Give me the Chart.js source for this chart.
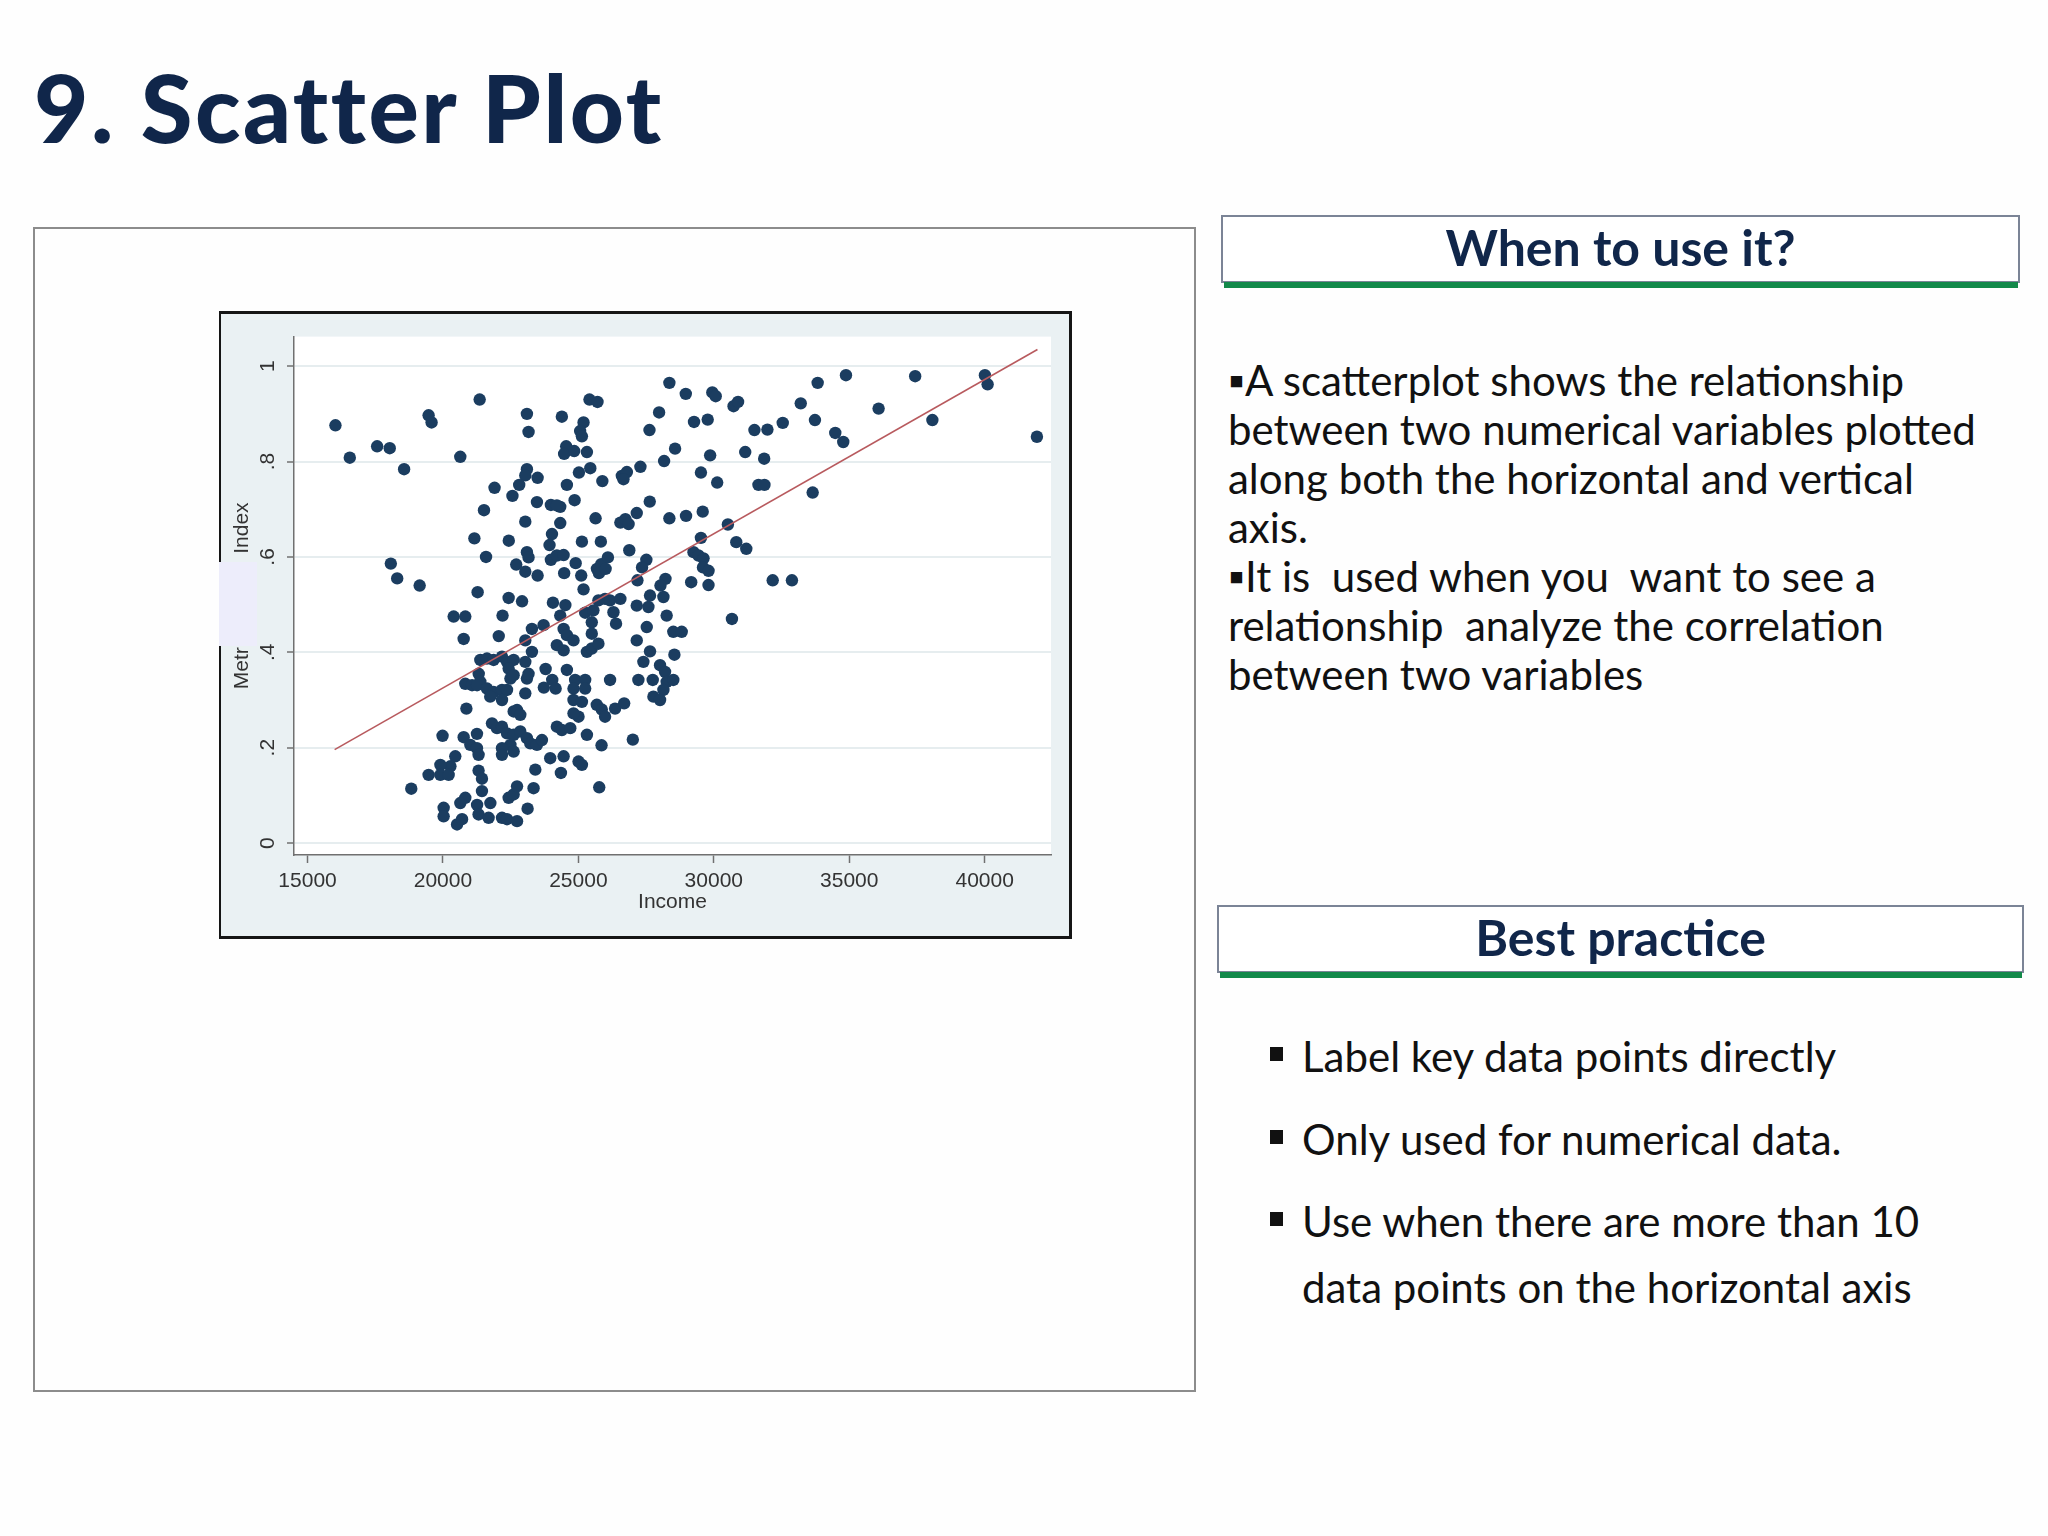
<!DOCTYPE html>
<html>
<head>
<meta charset="utf-8">
<script src="https://cdn.jsdelivr.net/npm/chart.js@4.4.0/dist/chart.umd.min.js"></script>
<style>
  body { margin: 0; width: 2048px; height: 1536px; background: #fefefe; position: relative; overflow: hidden; font-family: Lato, "Open Sans", sans-serif; }
  #title { position: absolute; left: 34px; top: 60px; font-size: 94px; line-height: 94px; font-weight: 900; letter-spacing: 2.5px; color: #10264a; white-space: pre; }
  #panel { position: absolute; left: 33px; top: 227px; width: 1163px; height: 1165px; border: 2px solid #8c8c8c; box-sizing: border-box; }
  #chartBox { position: absolute; left: 219px; top: 311px; width: 853px; height: 628px; box-sizing: border-box; border: 3px solid #151515; border-left-width: 2px; background: #eaf1f3; }
  #chartBox canvas { display: block; }
  #mask { position: absolute; left: 219px; top: 562px; width: 38px; height: 84px; background: #ededfb; }
  .head { position: absolute; box-sizing: border-box; border: 2px solid #7b8496; background: #fff; text-align: center; font-weight: 700; color: #10264a; font-size: 50px; }
  .bar { position: absolute; height: 6px; background: #13894a; }
  .line { position: absolute; left: 1228px; font-size: 42px; line-height: 49px; color: #111; white-space: pre; }
  .item { position: absolute; left: 1302px; font-size: 42px; line-height: 60px; color: #111; white-space: pre; }
  .sq { position: absolute; left: 1270px; width: 13px; height: 14px; background: #111; }
</style>
</head>
<body>
<div id="title">9. Scatter Plot</div>
<div id="panel"></div>
<div id="chartBox"><canvas id="scatter" width="848" height="622"></canvas></div>
<div id="mask"></div>

<div class="head" style="left:1221px;top:215px;width:799px;height:68px;line-height:60px;">When to use it?</div>
<div class="bar" style="left:1224px;top:282px;width:794px;"></div>
<div class="line" style="top:356px;">▪A scatterplot shows the relationship</div>
<div class="line" style="top:405px;">between two numerical variables plotted</div>
<div class="line" style="top:454px;">along both the horizontal and vertical</div>
<div class="line" style="top:503px;">axis.</div>
<div class="line" style="top:552px;">▪It is  used when you  want to see a</div>
<div class="line" style="top:601px;">relationship  analyze the correlation</div>
<div class="line" style="top:650px;">between two variables</div>

<div class="head" style="left:1217px;top:905px;width:807px;height:68px;line-height:60px;">Best practice</div>
<div class="bar" style="left:1220px;top:972px;width:802px;"></div>
<div class="sq" style="top:1047px;"></div>
<div class="item" style="top:1026px;">Label key data points directly</div>
<div class="sq" style="top:1130px;"></div>
<div class="item" style="top:1109px;">Only used for numerical data.</div>
<div class="sq" style="top:1212px;"></div>
<div class="item" style="top:1191px;">Use when there are more than 10</div>
<div class="item" style="top:1257px;">data points on the horizontal axis</div>

<script>
// scatter: income vs index
var incomes = [
  16030, 16560, 17570, 18035, 18565, 19470, 19580, 20640, 21355, 23100,
  23160, 24390, 25410, 25705, 25190, 25065, 25130, 24550, 24475, 24845,
  25315, 28360, 28965, 27980, 27625, 28570, 28165, 23100, 23040, 23495,
  22815, 21905, 22565, 21515, 23470, 23985, 24330, 24205, 24575, 25020,
  25440, 24860, 25885, 26605, 26790, 26665, 27290, 27635, 28360, 28975,
  27155, 26550, 26735, 26855, 25635, 23040, 24330, 24025, 22430, 21160,
  25130, 25830, 23935, 26880, 27510, 27350, 28215, 28030, 27180, 23100,
  23160, 21590, 22705, 23040, 23495, 23985, 24205, 24455, 24900, 24475,
  25105, 25685, 25845, 26090, 25760, 26005, 18075, 18310, 19140,
  29945, 30070, 30730, 30895, 29270, 29775, 31500, 31980, 32545, 33210,
  33735, 33835, 34880, 34485, 34780, 36085, 37435, 38070, 40010, 40110,
  41930, 29865, 31160, 31860, 29525, 30125, 31650, 31870, 33650, 29590,
  30520, 29525, 30830, 31200, 29250, 29435, 29620, 29600, 29805, 29165,
  29805, 32175, 32885, 30670,
  21280, 22425, 22920, 24060, 24520, 24330, 25190, 25740, 25985, 26170,
  26550, 27645, 28140, 27585, 27155, 28260, 20395, 20825, 22200, 25250,
  25555, 26295, 25495, 26390, 20765, 22060, 23040, 23285, 23715, 24455,
  24575, 24820, 24205, 24455, 25495, 25315, 25495, 25740, 27155, 27525,
  28505, 28815, 28545, 27645, 27400, 27215, 27745, 28015, 28200, 28260,
  28505, 28140, 27770, 28015, 26170,
  21380, 21625, 21870, 22180, 22365, 22610, 23040, 23285,
  23790, 24035, 23725, 24160, 23100, 23160, 23040,
  21320, 21380, 20825, 21075, 21260, 21625, 21870, 22180, 22365, 21745,
  22180, 22425, 22490, 22610, 20865,
  24575, 24880, 25250, 24820, 25250, 24820, 25130, 25680, 25865, 25985,
  26355, 26690, 25005, 24820,
  22610, 22735, 22855, 21810, 21995, 22180, 22365, 22610, 22490, 22180,
  22180, 22610, 22855, 23100, 23225, 23470, 23655,
  19985, 20765, 21255, 21010, 21255, 21315, 20455, 20275, 19905, 19470,
  19905, 20210, 18830, 21315, 21440,
  20025, 20025, 20520, 20705, 20825, 20640, 21260, 21315, 21750, 21440,
  21685, 22180, 22365, 22735, 22425, 22610, 22735, 23345, 23125,
  23410, 23960, 24455, 24355, 25005, 25130, 25315, 25855, 25770, 27010,
  24205, 24390, 24700
];
var indexValues = [
  0.876, 0.808, 0.832, 0.828, 0.784, 0.897, 0.882, 0.810, 0.930, 0.900,
  0.862, 0.894, 0.930, 0.925, 0.882, 0.864, 0.853, 0.832, 0.816, 0.822,
  0.820, 0.965, 0.942, 0.903, 0.866, 0.827, 0.801, 0.784, 0.771, 0.766,
  0.751, 0.745, 0.728, 0.698, 0.715, 0.709, 0.705, 0.708, 0.751, 0.777,
  0.786, 0.719, 0.759, 0.770, 0.778, 0.763, 0.789, 0.716, 0.681, 0.686,
  0.692, 0.672, 0.679, 0.669, 0.681, 0.674, 0.671, 0.648, 0.634, 0.639,
  0.632, 0.632, 0.625, 0.614, 0.594, 0.578, 0.554, 0.540, 0.551, 0.610,
  0.599, 0.600, 0.584, 0.569, 0.561, 0.594, 0.603, 0.604, 0.587, 0.566,
  0.561, 0.575, 0.585, 0.599, 0.566, 0.575, 0.586, 0.555, 0.540,
  0.945, 0.937, 0.916, 0.925, 0.883, 0.888, 0.866, 0.867, 0.881, 0.922,
  0.887, 0.965, 0.981, 0.860, 0.841, 0.911, 0.979, 0.887, 0.981, 0.962,
  0.852, 0.813, 0.820, 0.806, 0.777, 0.756, 0.751, 0.751, 0.735, 0.695,
  0.668, 0.640, 0.631, 0.617, 0.610, 0.603, 0.597, 0.578, 0.571, 0.547,
  0.541, 0.551, 0.551, 0.470,
  0.526, 0.514, 0.507, 0.504, 0.499, 0.477, 0.532, 0.509, 0.512, 0.509,
  0.512, 0.519, 0.516, 0.495, 0.498, 0.477, 0.475, 0.475, 0.477, 0.483,
  0.488, 0.484, 0.463, 0.460, 0.428, 0.434, 0.425, 0.449, 0.457, 0.449,
  0.436, 0.425, 0.415, 0.404, 0.439, 0.401, 0.408, 0.418, 0.425, 0.453,
  0.443, 0.443, 0.395, 0.402, 0.380, 0.342, 0.342, 0.373, 0.359, 0.338,
  0.342, 0.321, 0.307, 0.300, 0.342,
  0.384, 0.387, 0.384, 0.391, 0.380, 0.384, 0.380, 0.401,
  0.365, 0.342, 0.326, 0.324, 0.345, 0.355, 0.314,
  0.355, 0.338, 0.334, 0.331, 0.331, 0.324, 0.317, 0.321, 0.321, 0.307,
  0.300, 0.366, 0.345, 0.352, 0.282,
  0.363, 0.342, 0.342, 0.324, 0.324, 0.300, 0.296, 0.290, 0.280, 0.265,
  0.282, 0.293, 0.265, 0.272,
  0.276, 0.279, 0.269, 0.251, 0.241, 0.244, 0.230, 0.227, 0.206, 0.199,
  0.185, 0.192, 0.234, 0.220, 0.209, 0.206, 0.216,
  0.225, 0.222, 0.229, 0.206, 0.199, 0.185, 0.182, 0.161, 0.164, 0.143,
  0.143, 0.143, 0.114, 0.152, 0.135,
  0.074, 0.056, 0.039, 0.050, 0.095, 0.084, 0.080, 0.060, 0.084, 0.109,
  0.053, 0.053, 0.050, 0.046, 0.095, 0.102, 0.119, 0.115, 0.072,
  0.154, 0.178, 0.182, 0.147, 0.171, 0.164, 0.227, 0.205, 0.117, 0.217,
  0.244, 0.237, 0.241
];

// fitted line, two ends
var fitIncome = [16000, 41950];
var fitIndex = [0.196, 1.035];

var xTicks = [15000, 20000, 25000, 30000, 35000, 40000];
var xTickLabels = ['15000', '20000', '25000', '30000', '35000', '40000'];
var yTicks = [0, 0.2, 0.4, 0.6, 0.8, 1];
var yTickLabels = ['0', '.2', '.4', '.6', '.8', '1'];
var xTitle = 'Income';
var yTitle = 'Metr                Index';

var points = incomes.map(function (x, i) { return { x: x, y: indexValues[i] }; });
var fitPoints = fitIncome.map(function (x, i) { return { x: x, y: fitIndex[i] }; });

// white plot region like stata
var plotBg = {
  id: 'plotBg',
  beforeDraw: function (chart) {
    var a = chart.chartArea, ctx = chart.ctx;
    ctx.save();
    ctx.fillStyle = '#ffffff';
    ctx.fillRect(a.left, a.top, a.right - a.left, a.bottom - a.top);
    ctx.restore();
  }
};

var axisFont = { family: '"Liberation Sans", Arial, sans-serif', size: 21 };

var ctx = document.getElementById('scatter').getContext('2d');
var chart = new Chart(ctx, {
    type: 'scatter',
    data: {
        datasets: [{
            type: 'line',
            data: fitPoints,
            borderColor: '#b85a5e',
            borderWidth: 1.6,
            pointRadius: 0,
            fill: false,
            order: 0
        }, {
            data: points,
            backgroundColor: '#1b3d60',
            borderWidth: 0,
            pointRadius: 6.2,
            order: 1
        }]
    },
    plugins: [plotBg],
    options: {
        responsive: false,
        animation: false,
        events: [],
        layout: { padding: { left: 0, right: 18, top: 19, bottom: 0 } },
        plugins: { legend: { display: false }, tooltip: { enabled: false } },
        scales: {
            x: {
                type: 'linear',
                min: 14500,
                max: 42450,
                afterBuildTicks: function (s) { s.ticks = xTicks.map(function (v) { return { value: v }; }); },
                afterFit: function (s) { s.height = 81; },
                border: { color: '#707070', width: 1.5 },
                grid: { drawOnChartArea: false, tickLength: 8, tickColor: '#707070', tickWidth: 1.5 },
                ticks: {
                    maxRotation: 0, autoSkip: false, padding: 6, color: '#333', font: axisFont,
                    callback: function (v) { return xTickLabels[xTicks.indexOf(v)]; }
                },
                title: { display: true, text: xTitle, color: '#333', font: axisFont, padding: { top: 0, bottom: 21 } }
            },
            y: {
                type: 'linear',
                min: -0.025,
                max: 1.062,
                afterBuildTicks: function (s) { s.ticks = yTicks.map(function (v) { return { value: v }; }); },
                afterFit: function (s) { s.width = 73; },
                border: { color: '#707070', width: 1.5 },
                grid: { color: '#e6edef', lineWidth: 2, tickLength: 7, tickColor: '#707070', tickWidth: 1.5 },
                ticks: {
                    minRotation: 90, maxRotation: 90, autoSkip: false,
                    crossAlign: 'center', padding: 10, color: '#333', font: axisFont,
                    callback: function (v) { return yTickLabels[yTicks.indexOf(v)]; }
                },
                title: { display: true, text: yTitle, color: '#333', font: axisFont, padding: { top: 9, bottom: 0 } }
            }
        }
    }
});
</script>
</body>
</html>
